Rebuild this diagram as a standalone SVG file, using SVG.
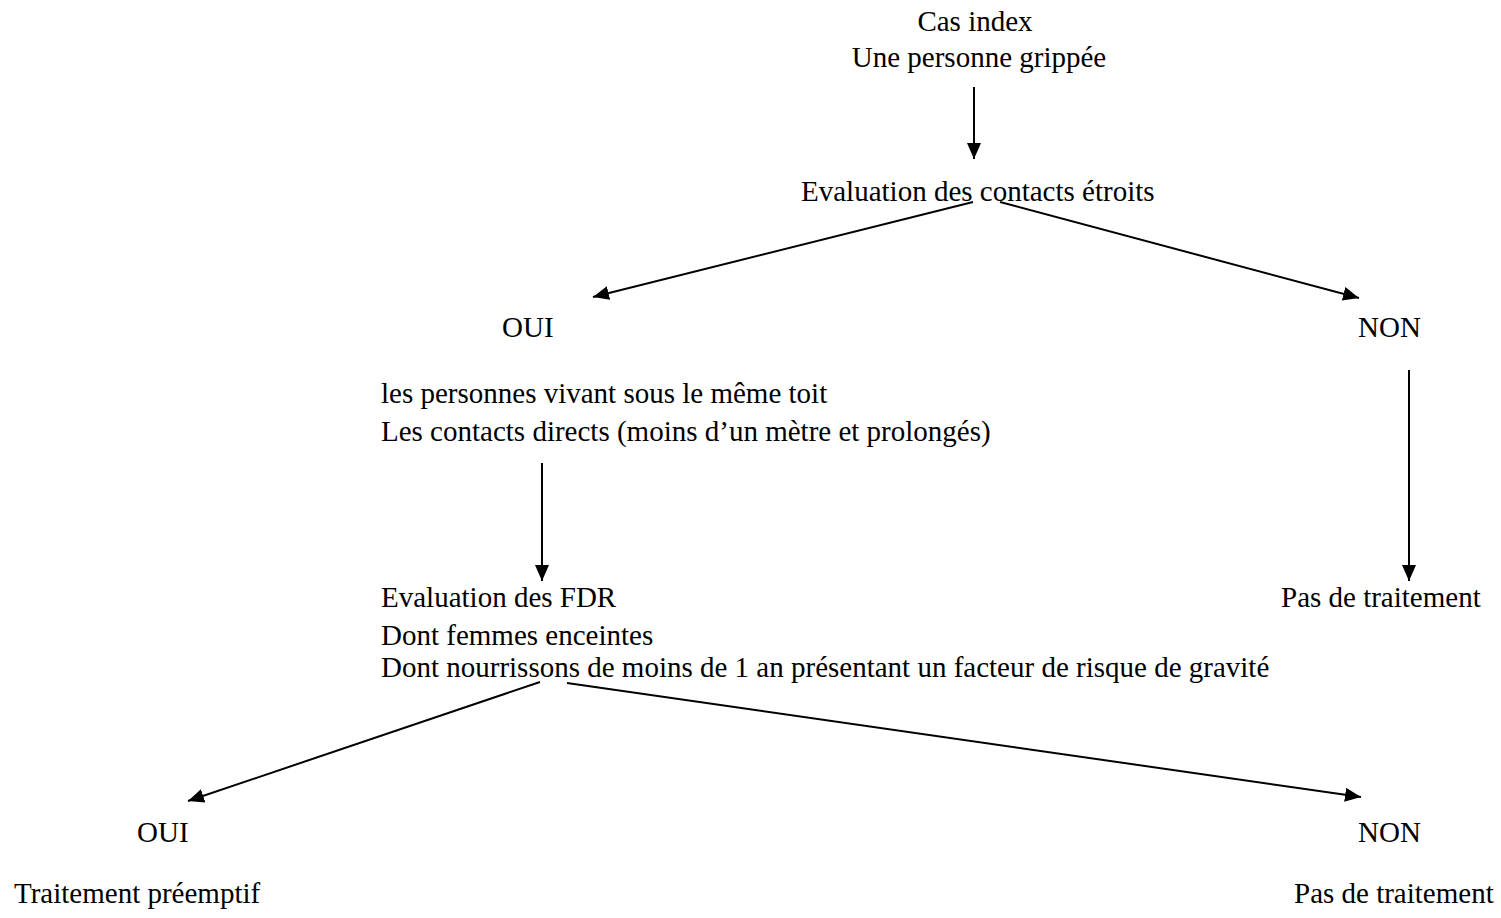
<svg xmlns="http://www.w3.org/2000/svg" width="1501" height="918" viewBox="0 0 1501 918">
<style>
text{font-family:"Liberation Serif","Times New Roman",serif;font-size:29px;fill:#000}
.c{text-anchor:middle}
.ln{stroke:#000;stroke-width:2;fill:none}
</style>
<defs>
<marker id="ah" viewBox="0 0 16 14" refX="16" refY="7" markerWidth="16" markerHeight="14" markerUnits="userSpaceOnUse" orient="auto">
<path d="M0,0 L16,7 L0,14 z" fill="#000"/>
</marker>
</defs>
<rect width="1501" height="918" fill="#fff"/>
<g id="n-cas"><text class="c" x="975" y="31">Cas index</text><text class="c" x="979" y="67">Une personne grippée</text></g>
<g id="n-eval"><text x="801" y="201">Evaluation des contacts étroits</text></g>
<g id="n-oui1"><text x="502" y="337">OUI</text></g>
<g id="n-non1"><text x="1358" y="337">NON</text></g>
<g id="n-pers"><text x="381" y="403">les personnes vivant sous le même toit</text><text x="381" y="441">Les contacts directs (moins d’un mètre et prolongés)</text></g>
<g id="n-fdr"><text x="381" y="607">Evaluation des FDR</text><text x="381" y="645">Dont femmes enceintes</text><text x="381" y="677">Dont nourrissons de moins de 1 an présentant un facteur de risque de gravité</text></g>
<g id="n-pas1"><text x="1281" y="607">Pas de traitement</text></g>
<g id="n-oui2"><text x="137" y="842">OUI</text></g>
<g id="n-non2"><text x="1358" y="842">NON</text></g>
<g id="n-trait"><text x="14" y="903">Traitement préemptif</text></g>
<g id="n-pas2"><text x="1294" y="903">Pas de traitement</text></g>
<g id="connectors">
<line class="ln" x1="974" y1="87" x2="974" y2="159" marker-end="url(#ah)"/>
<line class="ln" x1="973" y1="202" x2="593" y2="297" marker-end="url(#ah)"/>
<line class="ln" x1="1000" y1="202" x2="1359" y2="298" marker-end="url(#ah)"/>
<line class="ln" x1="542" y1="463" x2="542" y2="581" marker-end="url(#ah)"/>
<line class="ln" x1="1409" y1="370" x2="1409" y2="581" marker-end="url(#ah)"/>
<line class="ln" x1="540" y1="682" x2="188" y2="801" marker-end="url(#ah)"/>
<line class="ln" x1="567" y1="683" x2="1361" y2="797" marker-end="url(#ah)"/>
</g>
</svg>
